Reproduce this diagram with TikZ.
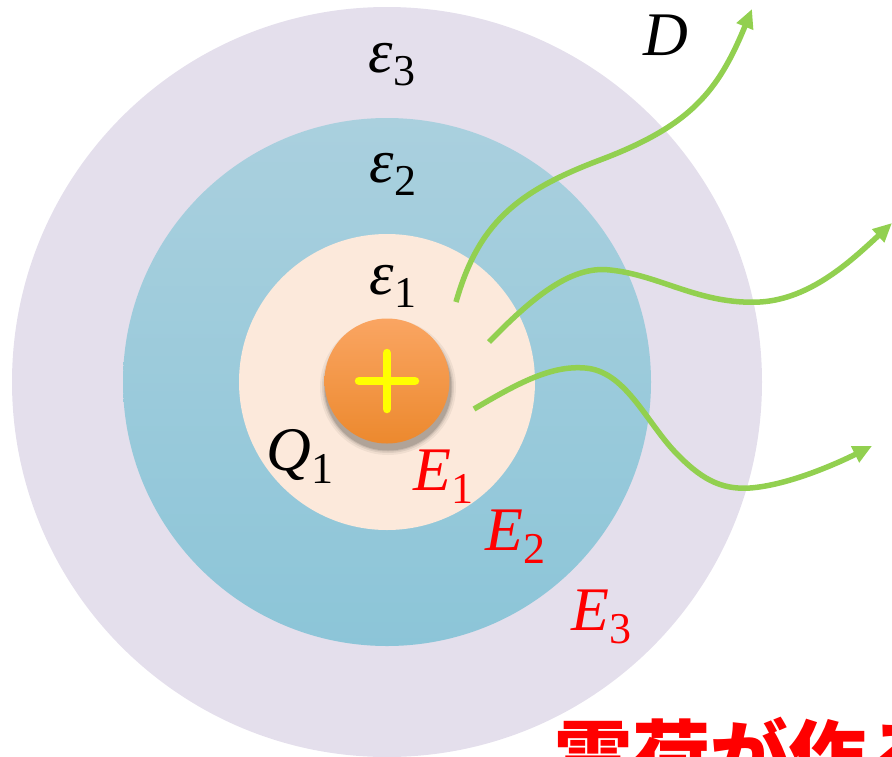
\documentclass[tikz,border=0pt]{standalone}
\usepackage{fontspec}
\newfontfamily\jpfont{Noto Sans CJK JP}
\newfontfamily\labfont{Liberation Serif}
\usetikzlibrary{arrows.meta}
\definecolor{outerc}{RGB}{228,223,236}
\definecolor{midtop}{RGB}{170,208,222}
\definecolor{midbot}{RGB}{140,197,216}
\definecolor{innerc}{RGB}{252,233,219}
\definecolor{balltop}{RGB}{250,165,98}
\definecolor{ballbot}{RGB}{236,137,46}
\definecolor{plusc}{RGB}{255,255,0}
\definecolor{fieldc}{RGB}{146,208,80}
\definecolor{labred}{RGB}{255,0,0}
\newcommand\symsub[3][1pt]{{\itshape #2}\kern#1\raisebox{-13pt}{\fontsize{44}{46}\selectfont #3}}
\tikzset{
  lab/.style={inner sep=0pt, anchor=base west, font=\labfont\fontsize{62}{66}\selectfont},
  fieldline/.style={draw=fieldc, line width=5.5pt, -{Triangle[length=19pt,width=17pt]}},
}
\begin{document}
\begin{tikzpicture}[x=1pt,y=-1pt]
\useasboundingbox (0,0) rectangle (892,756);
\clip (0,0) rectangle (892,756);
% layers
\fill[outerc] (387,382) circle (375);
\shade[top color=midtop, bottom color=midbot] (387,382) circle (264);
\fill[innerc] (387,382) circle (148);
% ball shadow
\foreach \r/\o in {68/0.05,66/0.07,64.5/0.09,63.5/0.12}
  \fill[black,opacity=\o] (388,387) circle (\r);
\shade[top color=balltop, bottom color=ballbot] (387,381) circle (62.5);
\draw[plusc, line width=8.5pt, line cap=round] (359,381) -- (415,381) (387,353) -- (387,409);
% field lines
\coordinate (s1) at (456,302);
\coordinate (t1) at (752,9);
\coordinate (s2) at (489,342);
\coordinate (t2) at (892,223);
\coordinate (s3) at (474,409);
\coordinate (t3) at (872,446);
\draw[fieldline] (s1) .. controls (478,225) and (515,192) .. (600,160)
  .. controls (690,126) and (718,92) .. (t1);
\draw[fieldline] (s2) .. controls (530,300) and (570,265) .. (610,270)
  .. controls (660,275) and (700,305) .. (760,302)
  .. controls (810,299) and (850,262) .. (t2);
\draw[fieldline] (s3) .. controls (515,385) and (550,365) .. (585,368)
  .. controls (625,371) and (645,420) .. (675,452)
  .. controls (700,478) and (720,490) .. (750,488)
  .. controls (790,485) and (840,462) .. (t3);
% labels
\node[lab] (eps3) at (368,72) {\symsub{ε}{3}};
\node[lab] (eps2) at (369,182) {\symsub{ε}{2}};
\node[lab] (eps1) at (369,294) {\symsub{ε}{1}};
\node[lab] (q1) at (266,470) {\symsub{Q}{1}};
\node[lab, text=labred] (e1) at (413,490) {\symsub[0pt]{E}{1}};
\node[lab, text=labred] (e2) at (485,550) {\symsub[0pt]{E}{2}};
\node[lab, text=labred] (e3) at (571,630) {\symsub[0pt]{E}{3}};
\node[lab] (dlab) at (643,55) {\itshape D};
\node[inner sep=0pt, anchor=base west, text=labred, font=\jpfont\bfseries\fontsize{78}{86}\selectfont] (title) at (554,785) {電荷が作る};
\end{tikzpicture}
\end{document}
